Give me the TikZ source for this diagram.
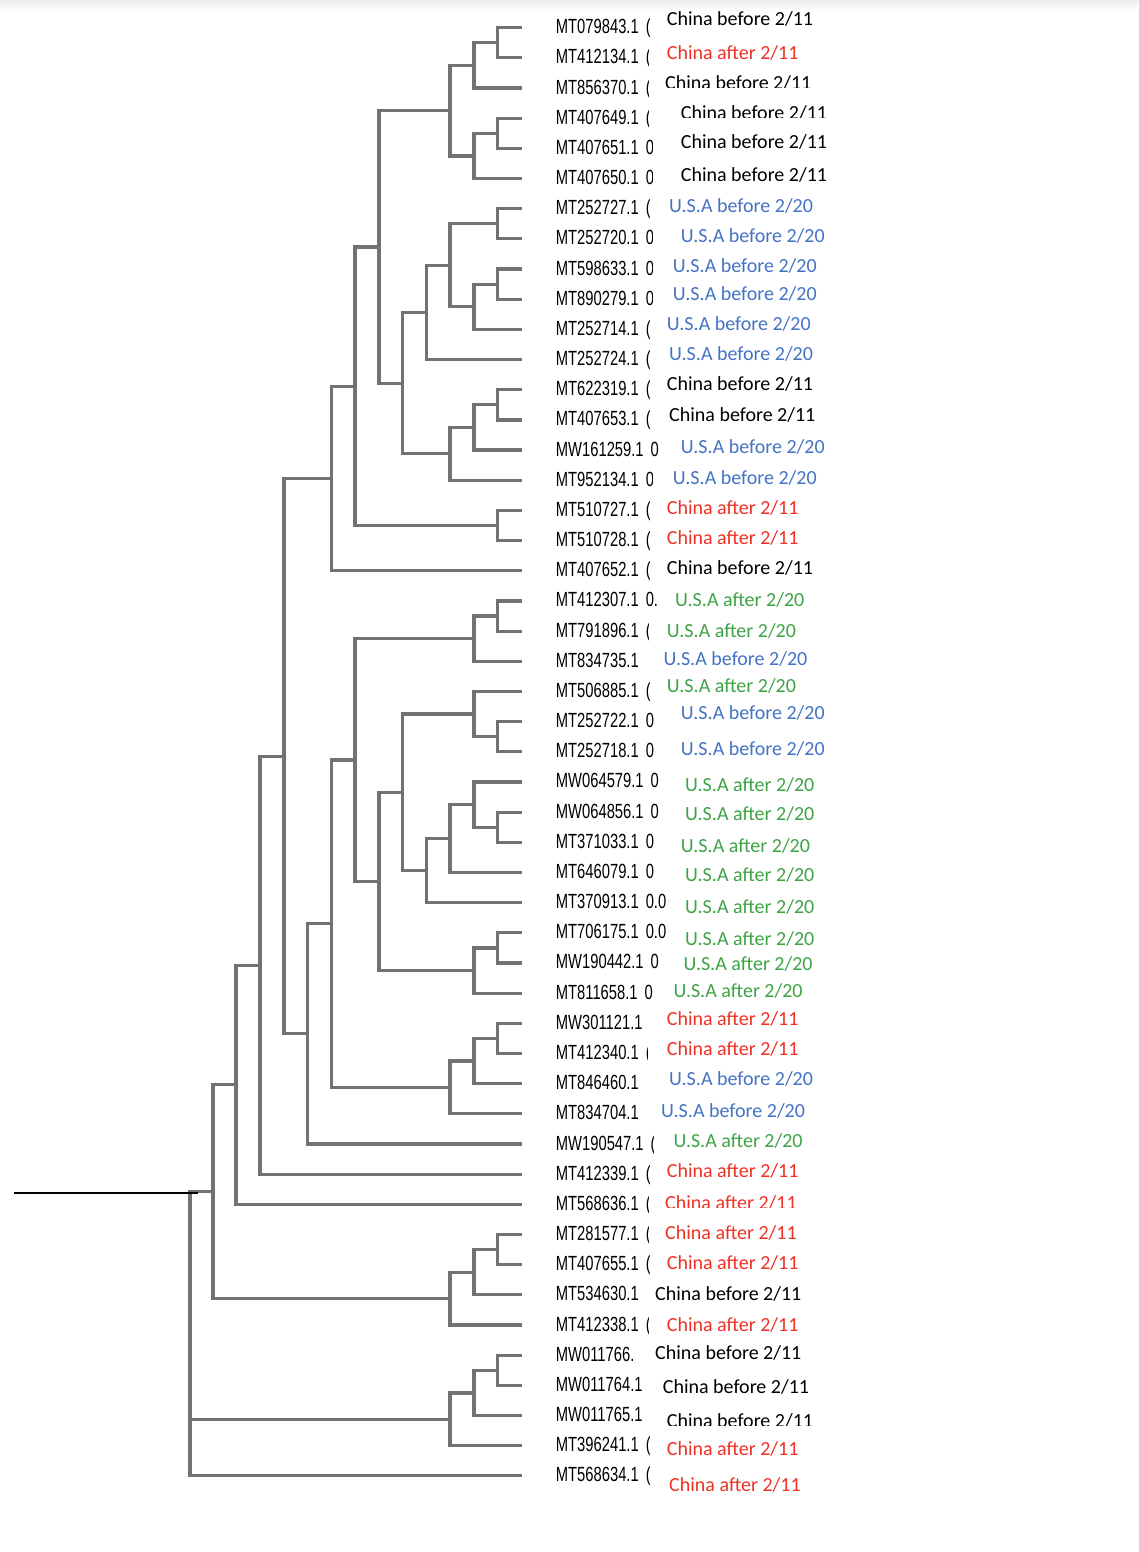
\documentclass[tikz,border=0pt]{standalone}
\usepackage{fontspec}
\setmainfont{Liberation Sans}
\newfontfamily\accfont[FakeStretch=0.72]{Liberation Sans}
\newfontfamily\labfont{Carlito}
\definecolor{treegray}{HTML}{727272}
\definecolor{cred}{HTML}{EE3124}
\definecolor{cblue}{HTML}{4472C4}
\definecolor{cgreen}{HTML}{3DA345}
\definecolor{cblack}{HTML}{000000}
\newcommand\CB{China before 2/11}
\newcommand\CA{China after 2/11}
\newcommand\UB{U.S.A before 2/20}
\newcommand\UA{U.S.A after 2/20}
\newcommand\tr[1]{\kern7pt#1}
% accession label: index, leaf y, text, right clip
\newcommand\acc[4]{\begin{scope}\clip (540,#2-22) rectangle (#4,#2+22);
  \node[accst] (a#1) at (555.7,#2+6) {#3};\end{scope}}
% coloured label: index, colour, x, baseline, text
\newcommand\lab[5]{\node[labst,text=#2] (t#1) at (#3,#4) {#5};}
% clipped coloured label: index, colour, x, baseline, text, clip y
\newcommand\labclip[6]{\begin{scope}\clip (#3-5,#4-30) rectangle (#3+200,#6);
  \node[labst,text=#2] (t#1) at (#3,#4) {#5};\end{scope}}
% bracket: parent, child, child
\newcommand\brk[3]{\draw[br] (#2) -| (#1) |- (#3);}
\begin{document}
\begin{tikzpicture}[x=1pt,y=-1pt,
  br/.style={draw=treegray,line width=3.2pt,line join=miter},
  accst/.style={anchor=base west,inner sep=0pt,font=\accfont\fontsize{20.5}{24}\selectfont},
  labst/.style={anchor=base west,inner sep=0pt,font=\labfont\fontsize{20}{24}\selectfont}]
\useasboundingbox (0,0) rectangle (1138,1552);
\shade[top color=black!7,bottom color=white] (0,0) rectangle (1138,11);

% leaf end points
\coordinate (L1) at (522,27.7);
\coordinate (L2) at (522,57.87);
\coordinate (L3) at (522,88.04);
\coordinate (L4) at (522,118.21);
\coordinate (L5) at (522,148.38);
\coordinate (L6) at (522,178.55);
\coordinate (L7) at (522,208.72);
\coordinate (L8) at (522,238.89);
\coordinate (L9) at (522,269.06);
\coordinate (L10) at (522,299.23);
\coordinate (L11) at (522,329.40);
\coordinate (L12) at (522,359.57);
\coordinate (L13) at (522,389.74);
\coordinate (L14) at (522,419.91);
\coordinate (L15) at (522,450.08);
\coordinate (L16) at (522,480.25);
\coordinate (L17) at (522,510.42);
\coordinate (L18) at (522,540.59);
\coordinate (L19) at (522,570.76);
\coordinate (L20) at (522,600.93);
\coordinate (L21) at (522,631.10);
\coordinate (L22) at (522,661.27);
\coordinate (L23) at (522,691.44);
\coordinate (L24) at (522,721.61);
\coordinate (L25) at (522,751.78);
\coordinate (L26) at (522,781.95);
\coordinate (L27) at (522,812.12);
\coordinate (L28) at (522,842.29);
\coordinate (L29) at (522,872.46);
\coordinate (L30) at (522,902.63);
\coordinate (L31) at (522,932.80);
\coordinate (L32) at (522,962.97);
\coordinate (L33) at (522,993.14);
\coordinate (L34) at (522,1023.31);
\coordinate (L35) at (522,1053.48);
\coordinate (L36) at (522,1083.65);
\coordinate (L37) at (522,1113.82);
\coordinate (L38) at (522,1143.99);
\coordinate (L39) at (522,1174.16);
\coordinate (L40) at (522,1204.33);
\coordinate (L41) at (522,1234.50);
\coordinate (L42) at (522,1264.67);
\coordinate (L43) at (522,1294.84);
\coordinate (L44) at (522,1325.01);
\coordinate (L45) at (522,1355.18);
\coordinate (L46) at (522,1385.35);
\coordinate (L47) at (522,1415.52);
\coordinate (L48) at (522,1445.69);
\coordinate (L49) at (522,1475.86);

% internal nodes
\coordinate (nA) at (497.7,42.79);
\coordinate (nB) at (474,65.41);
\coordinate (nC) at (497.7,133.30);
\coordinate (nD) at (474,155.92);
\coordinate (nE) at (450,110.67);
\coordinate (nF) at (497.7,223.81);
\coordinate (nG) at (497.7,284.15);
\coordinate (nH) at (474,306.77);
\coordinate (nI) at (450,265.29);
\coordinate (nJ) at (426.7,312.43);
\coordinate (nK) at (497.7,404.83);
\coordinate (nL) at (474,427.45);
\coordinate (nM) at (450,453.85);
\coordinate (nN) at (402.7,383.14);
\coordinate (nO) at (379,246.90);
\coordinate (nP) at (497.7,525.51);
\coordinate (nQ) at (355,386.21);
\coordinate (nR) at (331.7,478.48);
\coordinate (nS) at (497.7,616.02);
\coordinate (nT) at (474,638.64);
\coordinate (nU) at (497.7,736.70);
\coordinate (nV) at (474,714.07);
\coordinate (nW) at (497.7,827.21);
\coordinate (nX) at (474,804.58);
\coordinate (nY) at (450,838.52);
\coordinate (nZ) at (426.7,870.57);
\coordinate (nAA) at (402.7,792.32);
\coordinate (nAB) at (497.7,947.89);
\coordinate (nAC) at (474,970.51);
\coordinate (nAD) at (379,881.42);
\coordinate (nAE) at (355,760.03);
\coordinate (nAF) at (497.7,1038.40);
\coordinate (nAG) at (474,1061.02);
\coordinate (nAH) at (450,1087.42);
\coordinate (nAI) at (331.7,923.73);
\coordinate (nAJ) at (307.7,1033.86);
\coordinate (nAK) at (284,756.17);
\coordinate (nAL) at (260,965.17);
\coordinate (nAM) at (236,1084.75);
\coordinate (nAN) at (497.7,1249.59);
\coordinate (nAO) at (474,1272.21);
\coordinate (nAP) at (450,1298.61);
\coordinate (nAQ) at (213,1191.68);
\coordinate (nAR) at (497.7,1370.27);
\coordinate (nAS) at (474,1392.90);
\coordinate (nAT) at (450,1419.29);
\coordinate (root) at (190,1191.68);
\coordinate (rootin) at (14,1192.6);
\coordinate (rootend) at (198,1192.6);

% brackets
\brk{nA}{L1}{L2}
\brk{nB}{nA}{L3}
\brk{nC}{L4}{L5}
\brk{nD}{nC}{L6}
\brk{nE}{nB}{nD}
\brk{nF}{L7}{L8}
\brk{nG}{L9}{L10}
\brk{nH}{nG}{L11}
\brk{nI}{nF}{nH}
\brk{nJ}{nI}{L12}
\brk{nK}{L13}{L14}
\brk{nL}{nK}{L15}
\brk{nM}{nL}{L16}
\brk{nN}{nJ}{nM}
\brk{nO}{nE}{nN}
\brk{nP}{L17}{L18}
\brk{nQ}{nO}{nP}
\brk{nR}{nQ}{L19}
\brk{nS}{L20}{L21}
\brk{nT}{nS}{L22}
\brk{nU}{L24}{L25}
\brk{nV}{L23}{nU}
\brk{nW}{L27}{L28}
\brk{nX}{L26}{nW}
\brk{nY}{nX}{L29}
\brk{nZ}{nY}{L30}
\brk{nAA}{nV}{nZ}
\brk{nAB}{L31}{L32}
\brk{nAC}{nAB}{L33}
\brk{nAD}{nAA}{nAC}
\brk{nAE}{nT}{nAD}
\brk{nAF}{L34}{L35}
\brk{nAG}{nAF}{L36}
\brk{nAH}{nAG}{L37}
\brk{nAI}{nAE}{nAH}
\brk{nAJ}{nAI}{L38}
\brk{nAK}{nR}{nAJ}
\brk{nAL}{nAK}{L39}
\brk{nAM}{nAL}{L40}
\brk{nAN}{L41}{L42}
\brk{nAO}{nAN}{L43}
\brk{nAP}{nAO}{L44}
\brk{nAQ}{nAM}{nAP}
\brk{nAR}{L45}{L46}
\brk{nAS}{nAR}{L47}
\brk{nAT}{nAS}{L48}
\draw[br] (nAQ) -| (root) |- (L49);
\draw[br] (root |- nAT) -- (nAT);
\draw[black,line width=2.2pt] (rootin) -- (rootend);

% accession labels
\acc{1}{27.7}{MT079843.1\tr{(}}{649}
\acc{2}{57.87}{MT412134.1\tr{(}}{648}
\acc{3}{88.04}{MT856370.1\tr{(}}{648}
\acc{4}{118.21}{MT407649.1\tr{(}}{648}
\acc{5}{148.38}{MT407651.1\tr{0}}{652}
\acc{6}{178.55}{MT407650.1\tr{0}}{652}
\acc{7}{208.72}{MT252727.1\tr{(}}{649}
\acc{8}{238.89}{MT252720.1\tr{0}}{652}
\acc{9}{269.06}{MT598633.1\tr{0}}{652}
\acc{10}{299.23}{MT890279.1\tr{0}}{652}
\acc{11}{329.40}{MT252714.1\tr{(}}{649}
\acc{12}{359.57}{MT252724.1\tr{(}}{649}
\acc{13}{389.74}{MT622319.1\tr{(}}{649}
\acc{14}{419.91}{MT407653.1\tr{(}}{649}
\acc{15}{450.08}{MW161259.1\tr{0}}{658}
\acc{16}{480.25}{MT952134.1\tr{0}}{652}
\acc{17}{510.42}{MT510727.1\tr{(}}{649}
\acc{18}{540.59}{MT510728.1\tr{(}}{649}
\acc{19}{570.76}{MT407652.1\tr{(}}{649}
\acc{20}{600.93}{MT412307.1\tr{0.}}{656}
\acc{21}{631.10}{MT791896.1\tr{(}}{648}
\acc{22}{661.27}{MT834735.1}{700}
\acc{23}{691.44}{MT506885.1\tr{(}}{649}
\acc{24}{721.61}{MT252722.1\tr{0}}{653}
\acc{25}{751.78}{MT252718.1\tr{0}}{653}
\acc{26}{781.95}{MW064579.1\tr{0}}{658}
\acc{27}{812.12}{MW064856.1\tr{0}}{658}
\acc{28}{842.29}{MT371033.1\tr{0}}{653}
\acc{29}{872.46}{MT646079.1\tr{0}}{653}
\acc{30}{902.63}{MT370913.1\tr{0.0}}{666}
\acc{31}{932.80}{MT706175.1\tr{0.0}}{667}
\acc{32}{962.97}{MW190442.1\tr{0}}{658}
\acc{33}{993.14}{MT811658.1\tr{0}}{652}
\acc{34}{1023.31}{MW301121.1}{700}
\acc{35}{1053.48}{MT412340.1\tr{(}}{647.5}
\acc{36}{1083.65}{MT846460.1}{700}
\acc{37}{1113.82}{MT834704.1}{700}
\acc{38}{1143.99}{MW190547.1\tr{(}}{653}
\acc{39}{1174.16}{MT412339.1\tr{(}}{649}
\acc{40}{1204.33}{MT568636.1\tr{(}}{648}
\acc{41}{1234.50}{MT281577.1\tr{(}}{648}
\acc{42}{1264.67}{MT407655.1\tr{(}}{649}
\acc{43}{1294.84}{MT534630.1}{637.5}
\acc{44}{1325.01}{MT412338.1\tr{(}}{648}
\acc{45}{1355.18}{MW011766.}{700}
\acc{46}{1385.35}{MW011764.1}{700}
\acc{47}{1415.52}{MW011765.1}{700}
\acc{48}{1445.69}{MT396241.1\tr{(}}{649}
\acc{49}{1475.86}{MT568634.1\tr{(}}{649}

% coloured labels
\lab{1}{cblack}{666.7}{26}{\CB}
\lab{2}{cred}{666.7}{59.3}{\CA}
\labclip{3}{cblack}{665}{89.5}{\CB}{87.3}
\labclip{4}{cblack}{680.7}{120}{\CB}{117.3}
\lab{5}{cblack}{680.7}{148.3}{\CB}
\lab{6}{cblack}{680.7}{181.7}{\CB}
\lab{7}{cblue}{669}{212.3}{\UB}
\lab{8}{cblue}{680.7}{242.3}{\UB}
\lab{9}{cblue}{672.7}{272.3}{\UB}
\lab{10}{cblue}{672.7}{300.7}{\UB}
\lab{11}{cblue}{666.7}{330.7}{\UB}
\lab{12}{cblue}{669}{360}{\UB}
\lab{13}{cblack}{666.7}{390}{\CB}
\lab{14}{cblack}{669}{421.7}{\CB}
\lab{15}{cblue}{680.7}{453.3}{\UB}
\lab{16}{cblue}{672.7}{484}{\UB}
\lab{17}{cred}{666.7}{514}{\CA}
\lab{18}{cred}{666.7}{544}{\CA}
\lab{19}{cblack}{666.7}{574}{\CB}
\lab{20}{cgreen}{675}{606.7}{\UA}
\lab{21}{cgreen}{666.7}{637.3}{\UA}
\lab{22}{cblue}{663.3}{665}{\UB}
\lab{23}{cgreen}{666.7}{692.7}{\UA}
\lab{24}{cblue}{680.7}{719.3}{\UB}
\lab{25}{cblue}{680.7}{755.7}{\UB}
\lab{26}{cgreen}{685}{791.7}{\UA}
\lab{27}{cgreen}{685}{820.7}{\UA}
\lab{28}{cgreen}{680.7}{852.7}{\UA}
\lab{29}{cgreen}{685}{881.7}{\UA}
\lab{30}{cgreen}{685}{913.3}{\UA}
\lab{31}{cgreen}{685}{945}{\UA}
\lab{32}{cgreen}{683.3}{970.7}{\UA}
\lab{33}{cgreen}{673.3}{997.3}{\UA}
\lab{34}{cred}{666.7}{1025}{\CA}
\lab{35}{cred}{666.7}{1055}{\CA}
\lab{36}{cblue}{669}{1085}{\UB}
\lab{37}{cblue}{661}{1117.3}{\UB}
\lab{38}{cgreen}{673.3}{1147.3}{\UA}
\lab{39}{cred}{666.7}{1177.3}{\CA}
\labclip{40}{cred}{665}{1209.5}{\CA}{1207}
\lab{41}{cred}{665}{1239.3}{\CA}
\lab{42}{cred}{666.7}{1269.3}{\CA}
\lab{43}{cblack}{655}{1300.7}{\CB}
\lab{44}{cred}{666.7}{1331.7}{\CA}
\lab{45}{cblack}{655}{1359}{\CB}
\lab{46}{cblack}{662.7}{1393.3}{\CB}
\labclip{47}{cblack}{666.7}{1427.7}{\CB}{1425}
\lab{48}{cred}{666.7}{1455}{\CA}
\lab{49}{cred}{669}{1491.7}{\CA}
\end{tikzpicture}
\end{document}
